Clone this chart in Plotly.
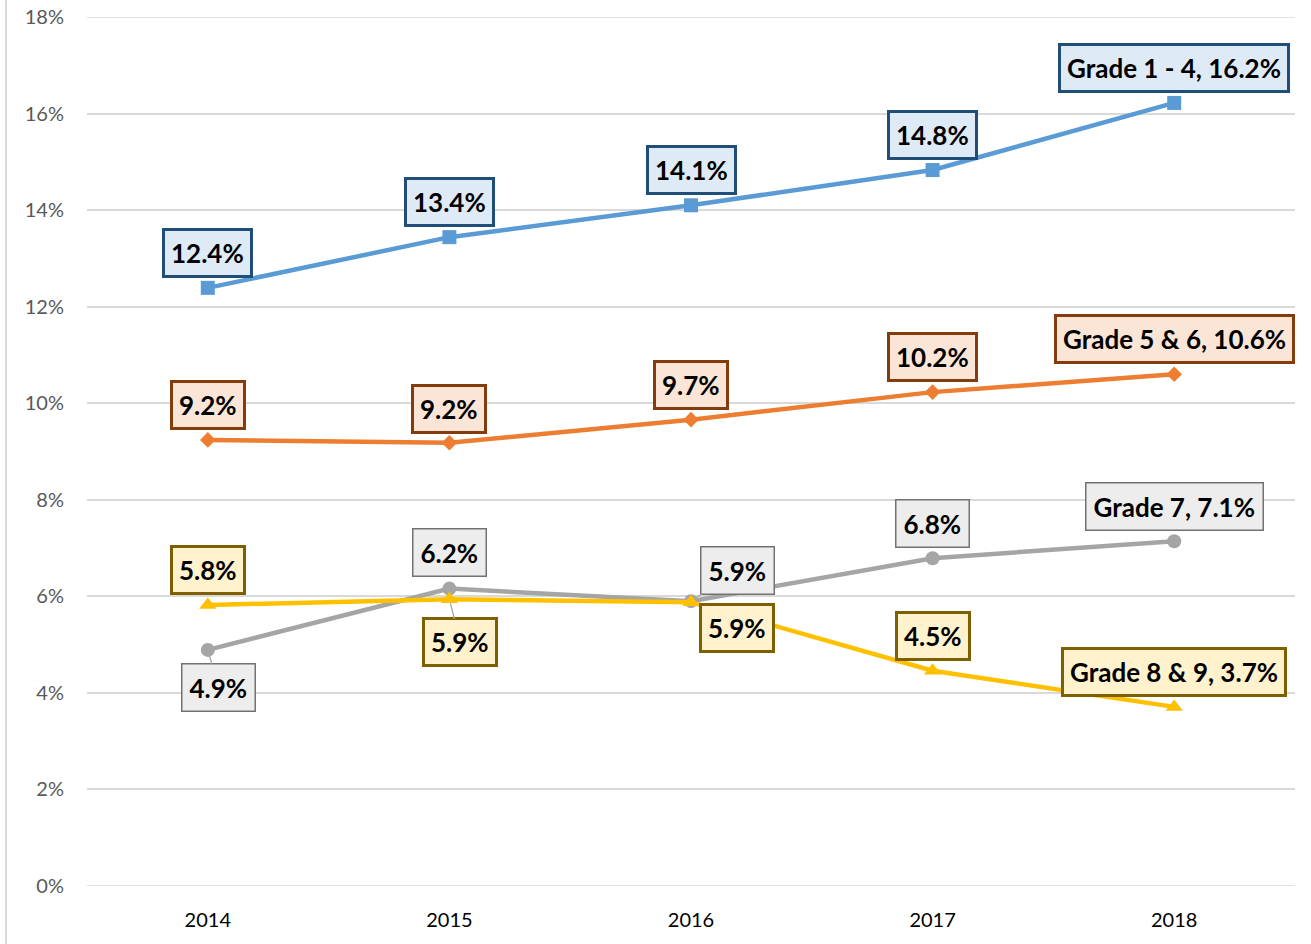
import plotly.graph_objects as go

years = ["2014", "2015", "2016", "2017", "2018"]
series_names = ["Grade 1 - 4", "Grade 5 & 6", "Grade 7", "Grade 8 & 9"]
grade_1_4 = [12.39, 13.44, 14.10, 14.83, 16.22]
grade_5_6 = [9.24, 9.18, 9.66, 10.23, 10.60]
grade_7 = [4.89, 6.16, 5.90, 6.79, 7.14]
grade_8_9 = [5.82, 5.94, 5.88, 4.46, 3.71]
y_ticks = [0, 2, 4, 6, 8, 10, 12, 14, 16, 18]

values = [grade_1_4, grade_5_6, grade_7, grade_8_9]

# styles
line_colors = ["#5B9BD5", "#ED7D31", "#A5A5A5", "#FFC000"]
symbols = ["square", "diamond", "circle", "triangle-up"]
msizes = [14, 12, 14, 15]
box_border = ["#1F4E79", "#843C0C", "#767171", "#7F6000"]
box_fill = ["#DEEBF7", "#FBE5D6", "#EDEDED", "#FFF2CC"]
box_bw = [3, 3, 1.5, 3]
# label offsets (pixels) per series, per point: (ax, ay)
offsets = [
    [(0, -35)] * 5,
    [(0, -35), (0, -34), (0, -35), (0, -35), (0, -35)],
    [(11, 38), (0, -36), (46, -31), (0, -35), (0, -35)],
    [(0, -35), (11, 43), (46, 26), (0, -35), (0, -35)],
]
leader = [
    [False] * 5,
    [False] * 5,
    [True, False, True, False, False],
    [False, True, False, False, False],
]

LABEL_FONT = "Lato, Open Sans, sans-serif"

fig = go.Figure()
for i, (name, vals) in enumerate(zip(series_names, values)):
    fig.add_trace(go.Scatter(
        x=years, y=vals, name=name, mode="lines+markers",
        line=dict(color=line_colors[i], width=4.5),
        marker=dict(symbol=symbols[i], size=msizes[i], color=line_colors[i]),
        showlegend=False, hoverinfo="skip",
    ))

annotations = []
for i, (name, vals) in enumerate(zip(series_names, values)):
    for j, v in enumerate(vals):
        txt = f"{v:.1f}%"
        if j == len(vals) - 1:
            txt = f"{name}, {txt}"
        ax, ay = offsets[i][j]
        annotations.append(dict(
            x=j, y=v, xref="x", yref="y",
            text=f"<b>{txt}</b>",
            showarrow=True, ax=ax, ay=ay, arrowhead=0, arrowwidth=1.3,
            arrowcolor="#A6A6A6" if leader[i][j] else "rgba(0,0,0,0)",
            standoff=4,
            font=dict(family=LABEL_FONT, size=26, color="#000000"),
            bgcolor=box_fill[i], bordercolor=box_border[i], borderwidth=box_bw[i],
            borderpad=6 if box_bw[i] > 2 else 7,
        ))

edge_lines = [
    dict(type="line", xref="paper", yref="y", x0=0, x1=1, y0=t, y1=t,
         line=dict(color="#D9D9D9", width=1.5), layer="below")
    for t in (y_ticks[0], y_ticks[-1])
]

fig.update_layout(
    width=1311, height=944,
    margin=dict(l=87, r=16, t=17, b=58, autoexpand=False),
    paper_bgcolor="white", plot_bgcolor="white",
    annotations=annotations,
    xaxis=dict(
        type="category", range=[-0.5, 4.5], showgrid=False, zeroline=False,
        showline=False, ticks="", automargin=False, ticklabelstandoff=20,
        tickfont=dict(family=LABEL_FONT, size=20, color="#000000"),
    ),
    yaxis=dict(
        range=[0, 18], tickvals=y_ticks, ticktext=[f"{t}%" for t in y_ticks],
        showgrid=True, gridcolor="#D9D9D9", gridwidth=1.5, zeroline=False,
        showline=False, ticks="", ticklabelstandoff=22, automargin=False,
        tickfont=dict(family=LABEL_FONT, size=20, color="#595959"),
    ),
    shapes=[dict(type="line", xref="paper", yref="paper",
                 x0=-81 / 1208, x1=-81 / 1208, y0=-58 / 869, y1=1 + 17 / 869,
                 line=dict(color="#D9D9D9", width=2))] + edge_lines,
)

fig.write_html(
    "out.html",
    config={"displayModeBar": False},
    post_script="document.body.style.margin='0px';document.body.style.padding='0px';",
)
